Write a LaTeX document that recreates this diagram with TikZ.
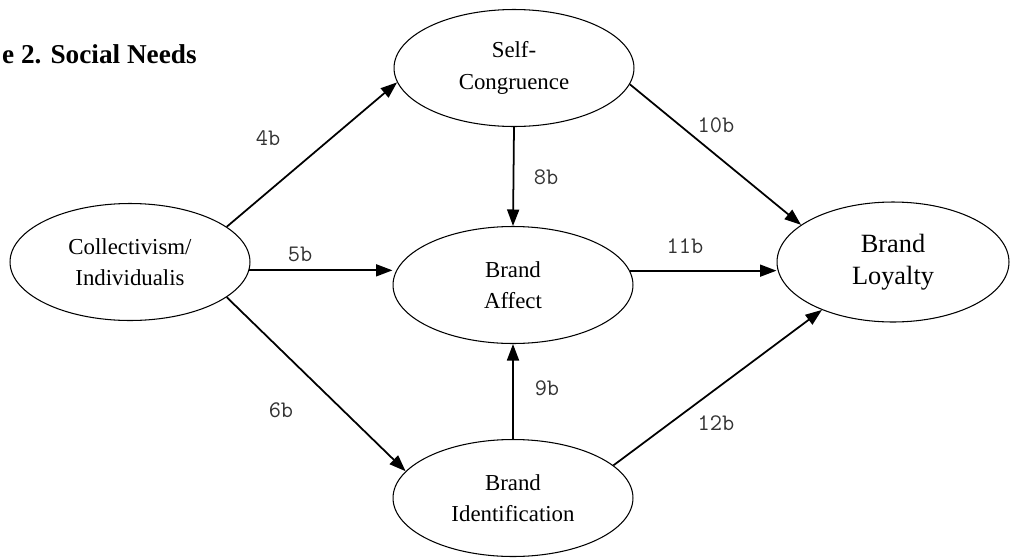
\documentclass[tikz,border=0pt]{standalone}
\usepackage{fontspec}
\setmainfont{Liberation Serif}
\usetikzlibrary{shapes.geometric,arrows.meta}

\begin{document}
\begin{tikzpicture}[x=0.02cm, y=-0.02cm,
    construct/.style={ellipse, draw, semithick, inner sep=0pt, align=center,
        minimum width=4.8cm, minimum height=2.34cm, font=\fontsize{13}{18}\selectfont},
    path/.style={line width=1pt, -{Triangle[length=0.33cm, width=0.24cm]}},
    hyp/.style={text=black!80, font=\ttfamily\fontsize{13.5}{15}\selectfont}]
            \useasboundingbox (0,0) rectangle (1011,558);

            \node[anchor=base west, font=\bfseries\fontsize{15.5}{18}\selectfont] (title) at (-4,63) {e 2. Social Needs};

            \node[construct] (coll) at (130,262) {Collectivism/\\Individualis};
            \node[construct] (selfc) at (514,68) {Self-\\Congruence};
            \node[construct] (affect) at (513,285) {Brand\\Affect};
            \node[construct] (ident) at (513,498) {Brand\\Identification};
            \node[construct, minimum width=4.64cm, minimum height=2.4cm,
                font=\fontsize{15}{18}\selectfont] (loyal) at (893,262) {Brand\\Loyalty};

            \draw[path] (coll.20) -- (selfc.187);
            \draw[path] (coll.-4) -- (coll.-4 -| affect.west);
            \draw[path] (coll.-20) -- (ident.166);
            \draw[path] (selfc.south) -- (affect.north);
            \draw[path] (ident.north) -- (affect.south);
            \draw[path] (selfc.-8) -- (loyal.158);
            \draw[path] (affect.7) -- (affect.7 -| loyal.west);
            \draw[path] (ident.18) -- (loyal.214);

            \node[hyp] (h4) at (268,138) {4b};
            \node[hyp] (h5) at (300,254) {5b};
            \node[hyp] (h6) at (281,410) {6b};
            \node[hyp] (h8) at (546,177) {8b};
            \node[hyp] (h9) at (547,388) {9b};
            \node[hyp] (h10) at (716,125) {10b};
            \node[hyp] (h11) at (685,246) {11b};
            \node[hyp] (h12) at (716,423) {12b};
        \end{tikzpicture}
\end{document}
